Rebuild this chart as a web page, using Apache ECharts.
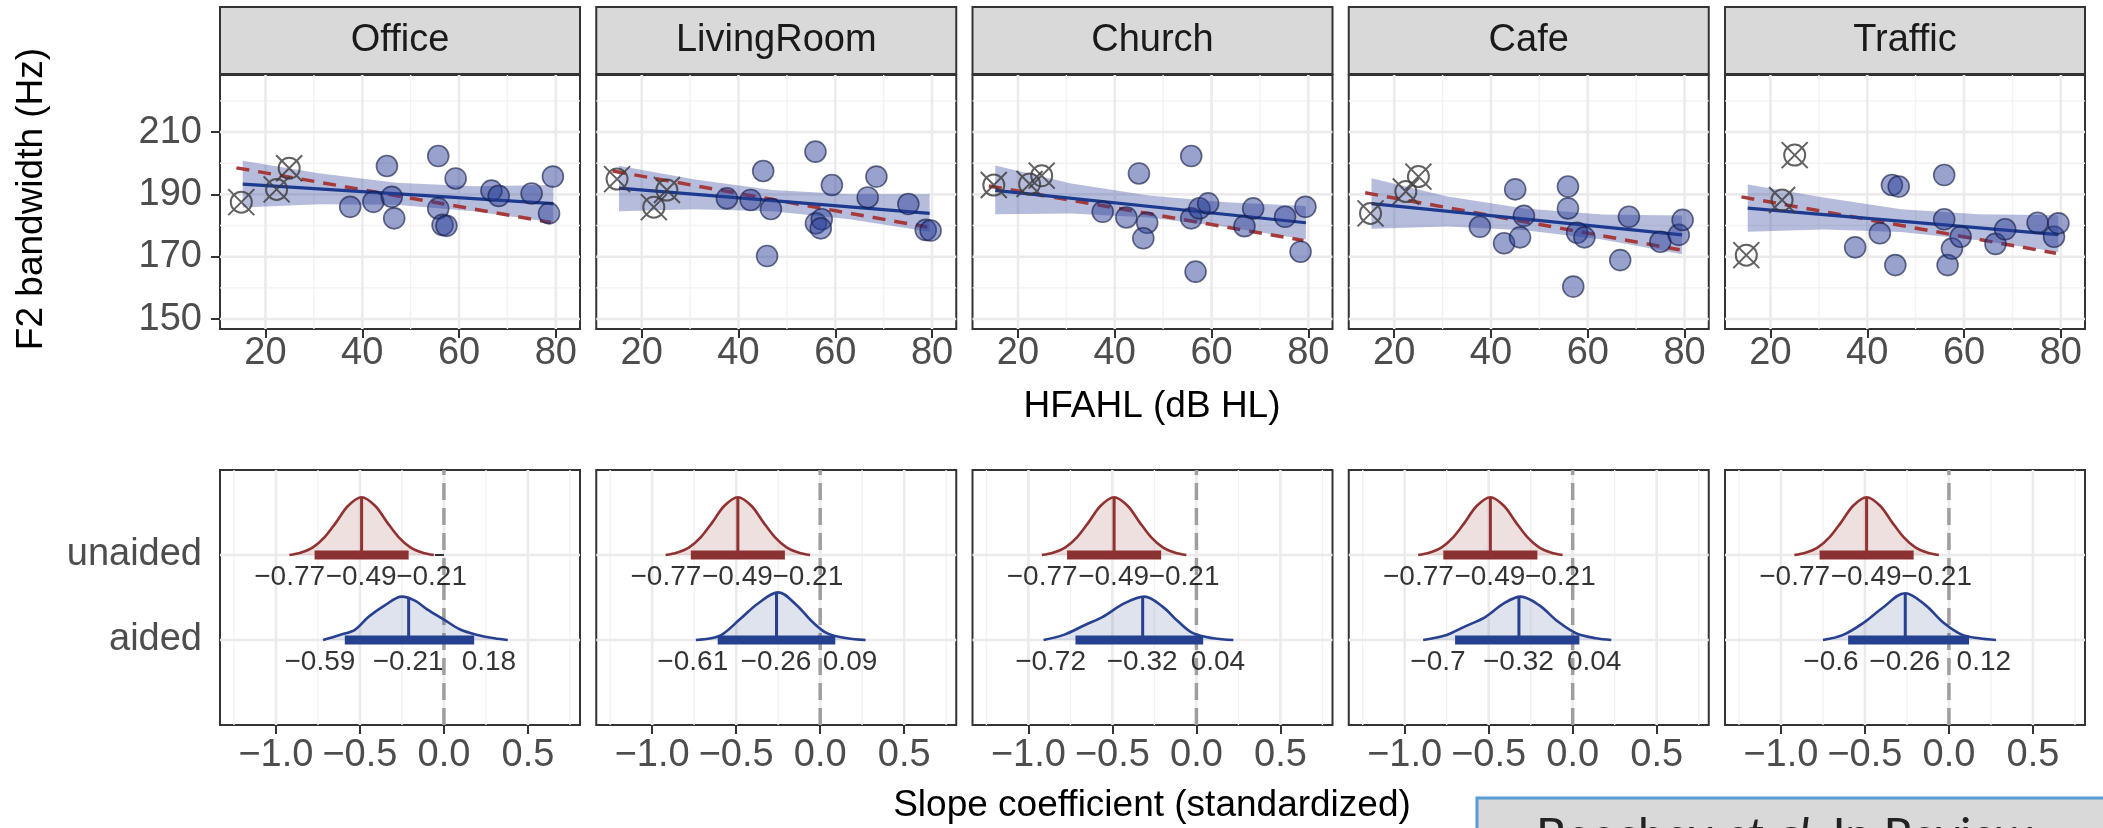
<!DOCTYPE html>
<html>
<head>
<meta charset="utf-8">
<title>F2 bandwidth vs HFAHL</title>
<script src="https://cdn.jsdelivr.net/npm/echarts@6/dist/echarts.min.js"></script>
<style>
  html, body { margin: 0; padding: 0; background: #fff; }
  #chart { width: 2103px; height: 828px; }
</style>
</head>
<body>
<div id="chart"></div>
<script>
// 面板名称
const rooms = ['Office', 'LivingRoom', 'Church', 'Cafe', 'Traffic'];

// 散点 [HFAHL, F2 bandwidth]
const officePts = [[37.5,186.0],[42.3,187.6],[45.1,199.1],[46.1,189.2],[46.6,182.3],[55.7,202.3],[55.7,185.5],[56.6,180.2],[57.4,179.9],[59.3,195.1],[66.7,191.2],[68.2,189.5],[75.0,190.3],[78.6,183.9],[79.4,195.7]];
const livingRoomPts = [[37.6,188.7],[42.5,188.2],[45.1,197.5],[46.7,185.3],[45.9,170.2],[55.9,203.7],[56.0,180.7],[57.2,182.0],[57.0,179.1],[59.3,193.0],[66.7,189.0],[68.5,195.7],[75.1,186.9],[78.7,178.6],[79.7,178.4]];
const churchPts = [[37.5,184.4],[42.4,182.6],[45.0,196.7],[46.7,180.9],[45.9,175.9],[55.8,202.3],[55.8,182.3],[56.7,165.2],[57.5,185.5],[59.3,187.1],[66.8,179.8],[68.6,185.5],[75.2,182.8],[79.4,186.0],[78.4,171.6]];
const cafePts = [[37.7,179.6],[42.7,174.3],[45.0,191.6],[46.0,176.2],[46.8,183.1],[55.9,192.5],[55.9,185.5],[57.0,160.4],[57.8,177.7],[59.3,176.2],[66.7,168.9],[68.5,182.8],[75.0,174.8],[78.8,177.0],[79.6,181.8]];
const trafficPts = [[37.5,173.0],[42.6,177.5],[45.1,193.0],[46.5,192.5],[45.8,167.3],[55.9,196.2],[55.9,182.0],[56.6,167.3],[57.5,172.6],[59.3,176.4],[66.5,174.1],[68.5,178.8],[75.2,180.9],[78.6,176.4],[79.5,180.7]];

// 带叉的点
const officeCrossed = [[15.0,187.5],[22.3,191.6],[24.9,198.4]];
const livingRoomCrossed = [[14.9,194.9],[22.5,185.9],[25.2,191.4]];
const churchCrossed = [[15.0,193.0],[22.4,193.3],[24.9,196.0]];
const cafeCrossed = [[15.1,183.9],[22.4,190.9],[25.0,195.7]];
const trafficCrossed = [[15.0,170.5],[22.4,188.2],[25.0,202.6]];

// 回归线（蓝色实线）与虚线（红色）
const fitX = [15.3, 79.5];
const blueFit = [[193.3,187.0],[192.0,183.9],[191.3,180.9],[187.0,177.0],[185.6,177.1]];
const redX = [14, 79];
const redFit = [[198.5,181.0],[197.5,179.5],[192.7,175.2],[190.5,172.2],[189.2,171.1]];

// 置信带
const bandX = [15.3, 31, 47, 63, 79.5];
const bandLo = [[185.8,186.8,186.7,184.6,181.0],[184.6,185.2,184.6,182.0,178.0],[183.6,183.9,182.6,179.5,175.5],[179.0,179.7,178.5,175.5,170.8],[178.0,178.7,177.9,175.3,171.5]];
const bandHi = [[200.8,196.8,193.7,192.6,193.0],[199.2,194.8,191.4,190.0,190.0],[199.3,193.5,189.6,187.5,186.3],[195.2,189.3,185.5,183.5,183.2],[193.2,189.0,185.2,183.6,183.3]];

// 刻度
const topXTicks = [20, 40, 60, 80];
const topXMinor = [30, 50, 70];
const topYTicks = [150, 170, 190, 210];
const topYMinor = [160, 180, 200, 220];
const slopeTicks = [-1.0, -0.5, 0.0, 0.5];
const slopeMinor = [-1.25, -0.75, -0.25, 0.25, 0.75];
const rows = ['aided', 'unaided'];

// 斜率区间 [下限, 中位数, 上限]
const unaidedCI = [-0.77, -0.49, -0.21];
const aidedCI = [[-0.59,-0.21,0.18],[-0.61,-0.26,0.09],[-0.72,-0.32,0.04],[-0.7,-0.32,0.04],[-0.6,-0.26,0.12]];

// 密度曲线（从图上读取的高度）
const unaidedDensX = [-0.92,-0.85,-0.78,-0.71,-0.64,-0.57,-0.49,-0.41,-0.34,-0.27,-0.20,-0.13,-0.06];
const unaidedDensH = [0.0,0.03,0.09,0.21,0.39,0.58,0.68,0.58,0.39,0.21,0.09,0.03,0.0];
const unaidedMedH = 0.68;
const aidedDensX = [
    [-0.72,-0.62,-0.53,-0.45,-0.35,-0.25,-0.17,-0.10,0.0,0.10,0.20,0.30,0.38],
    [-0.74,-0.65,-0.58,-0.48,-0.37,-0.25,-0.14,-0.05,0.04,0.16,0.27],
    [-0.91,-0.79,-0.66,-0.56,-0.43,-0.31,-0.20,-0.11,-0.02,0.10,0.22],
    [-0.89,-0.75,-0.64,-0.52,-0.41,-0.31,-0.20,-0.09,0.02,0.14,0.23],
    [-0.75,-0.63,-0.51,-0.40,-0.26,-0.14,-0.03,0.08,0.18,0.28]
];
const aidedDensH = [
    [0.0,0.06,0.12,0.27,0.41,0.51,0.46,0.36,0.24,0.12,0.06,0.02,0.0],
    [0.0,0.02,0.07,0.24,0.43,0.56,0.41,0.22,0.08,0.02,0.0],
    [0.0,0.06,0.18,0.27,0.43,0.51,0.39,0.22,0.08,0.02,0.0],
    [0.0,0.06,0.16,0.27,0.43,0.51,0.41,0.22,0.08,0.02,0.0],
    [0.0,0.06,0.20,0.37,0.55,0.41,0.20,0.06,0.02,0.0]
];
const aidedMedH = [0.49, 0.56, 0.51, 0.51, 0.55];

const allPts = [officePts, livingRoomPts, churchPts, cafePts, trafficPts];
const allCrossed = [officeCrossed, livingRoomCrossed, churchCrossed, cafeCrossed, trafficCrossed];

const FONT = '"Liberation Sans", Arial, Helvetica, sans-serif';
const TOP_X = [10.6, 85], TOP_Y = [146.8, 228.3];
const BOT_X = [-1.333, 0.81], BOT_Y = [0, 3];

document.addEventListener('DOMContentLoaded', function() {
    initChart();
});

function toMinus(v) {
    return String(v).replace('-', '\u2212');
}

// 网格线（自定义系列）
function makeGridRender(xMajor, xMinor, yMajor, yMinor, xr, yr, zeroX) {
    return function(params, api) {
        const children = [];
        const add = function(a, b, style) {
            children.push({ type: 'line', shape: { x1: a[0], y1: a[1], x2: b[0], y2: b[1] }, style: style });
        };
        xMinor.forEach(v => add(api.coord([v, yr[0]]), api.coord([v, yr[1]]), { stroke: '#f2f2f2', lineWidth: 1.4 }));
        yMinor.forEach(v => add(api.coord([xr[0], v]), api.coord([xr[1], v]), { stroke: '#f2f2f2', lineWidth: 1.4 }));
        xMajor.forEach(v => add(api.coord([v, yr[0]]), api.coord([v, yr[1]]), { stroke: '#ebebeb', lineWidth: 2.6 }));
        yMajor.forEach(v => add(api.coord([xr[0], v]), api.coord([xr[1], v]), { stroke: '#ebebeb', lineWidth: 2.6 }));
        if (zeroX !== null) {
            add(api.coord([zeroX, yr[0]]), api.coord([zeroX, yr[1]]), { stroke: '#9e9e9e', lineWidth: 3.5, lineDash: [17, 8] });
        }
        return { type: 'group', children: children };
    };
}

function initChart() {
    const el = document.getElementById('chart');
    const chart = echarts.init(el, null, { renderer: 'canvas' });

    const grid = [], xAxis = [], yAxis = [], series = [], graphic = [];
    const L0 = 220, STEP = 376.25, PW = 360;
    const RED = '#913232', RED_FILL = 'rgba(145,50,50,0.15)';
    const BLUE = '#27408f', BLUE_FILL = 'rgba(39,64,143,0.15)';

    const tickStyle = { color: '#333', width: 2 };
    const labelStyle = { fontSize: 38, color: '#4d4d4d', fontFamily: FONT };

    // 上排面板：网格 0-4
    for (let i = 0; i < 5; i++) {
        const L = L0 + i * STEP;
        grid.push({ left: L, top: 75, width: PW, height: 254, show: true, borderColor: '#333', borderWidth: 2,
            backgroundColor: '#fff', containLabel: false, outerBoundsMode: 'none' });
        xAxis.push({
            gridIndex: i, type: 'value', min: TOP_X[0], max: TOP_X[1],
            axisLine: { show: false }, splitLine: { show: false },
            axisTick: { show: true, customValues: topXTicks, length: 9, lineStyle: tickStyle },
            axisLabel: Object.assign({ customValues: topXTicks, margin: 6 }, labelStyle)
        });
        yAxis.push({
            gridIndex: i, type: 'value', min: TOP_Y[0], max: TOP_Y[1],
            axisLine: { show: false }, splitLine: { show: false },
            axisTick: { show: i === 0, customValues: topYTicks, length: 9, lineStyle: tickStyle },
            axisLabel: Object.assign({ show: i === 0, customValues: topYTicks, margin: 18 }, labelStyle)
        });

        series.push({
            type: 'custom', xAxisIndex: i, yAxisIndex: i, z: 0, silent: true,
            data: [[TOP_X[0], TOP_Y[0]]],
            renderItem: makeGridRender(topXTicks, topXMinor, topYTicks, topYMinor, TOP_X, TOP_Y, null)
        });
        // 置信带
        series.push({
            type: 'custom', xAxisIndex: i, yAxisIndex: i, z: 1, silent: true,
            data: [[bandX[0], bandLo[i][0]]],
            renderItem: (function(k) {
                return function(params, api) {
                    const pts = [];
                    bandX.forEach((x, j) => pts.push(api.coord([x, bandHi[k][j]])));
                    for (let j = bandX.length - 1; j >= 0; j--) pts.push(api.coord([bandX[j], bandLo[k][j]]));
                    return { type: 'polygon', shape: { points: pts }, style: { fill: 'rgba(40,60,150,0.34)' } };
                };
            })(i)
        });
        series.push({
            type: 'line', xAxisIndex: i, yAxisIndex: i, z: 2, symbol: 'none', silent: true,
            data: [[redX[0], redFit[i][0]], [redX[1], redFit[i][1]]],
            lineStyle: { color: '#a63a3a', width: 3.5, type: [13, 9] }
        });
        series.push({
            type: 'line', xAxisIndex: i, yAxisIndex: i, z: 3, symbol: 'none', silent: true,
            data: [[fitX[0], blueFit[i][0]], [fitX[1], blueFit[i][1]]],
            lineStyle: { color: '#1c3a8f', width: 3.2 }
        });
        series.push({
            type: 'scatter', xAxisIndex: i, yAxisIndex: i, z: 4, symbolSize: 21,
            data: allPts[i],
            itemStyle: { color: 'rgba(40,60,150,0.6)', borderColor: 'rgba(20,28,70,0.8)', borderWidth: 1.6 }
        });
        series.push({
            type: 'scatter', xAxisIndex: i, yAxisIndex: i, z: 4, symbolSize: 26,
            symbol: 'path://M0 0L26 26M26 0L0 26M23.5 13A10.5 10.5 0 1 1 2.5 13A10.5 10.5 0 1 1 23.5 13Z',
            data: allCrossed[i],
            itemStyle: { color: 'rgba(0,0,0,0)', borderColor: '#3a3a3a', borderWidth: 2 }
        });

        // 分面标签
        graphic.push({ type: 'rect', shape: { x: L, y: 7, width: PW, height: 67 },
            style: { fill: '#d9d9d9', stroke: '#333', lineWidth: 2 } });
        graphic.push({ type: 'text', x: L + PW / 2, y: 41,
            style: { text: rooms[i], fill: '#1a1a1a', fontSize: 38, fontFamily: FONT, align: 'center', verticalAlign: 'middle' } });
    }

    // 下排面板：网格 5-9
    for (let i = 0; i < 5; i++) {
        const L = L0 + i * STEP;
        const g = 5 + i;
        grid.push({ left: L, top: 470, width: PW, height: 255, show: true, borderColor: '#333', borderWidth: 2,
            backgroundColor: '#fff', containLabel: false, outerBoundsMode: 'none' });
        xAxis.push({
            gridIndex: g, type: 'value', min: BOT_X[0], max: BOT_X[1],
            axisLine: { show: false }, splitLine: { show: false },
            axisTick: { show: true, customValues: slopeTicks, length: 9, lineStyle: tickStyle },
            axisLabel: Object.assign({ customValues: slopeTicks, margin: 12,
                formatter: v => toMinus(Number(v).toFixed(1)) }, labelStyle)
        });
        yAxis.push({
            gridIndex: g, type: 'value', min: BOT_Y[0], max: BOT_Y[1],
            axisLine: { show: false }, splitLine: { show: false },
            axisTick: { show: i === 0, customValues: [1, 2], length: 9, lineStyle: tickStyle },
            axisLabel: Object.assign({ show: i === 0, customValues: [1, 2], margin: 18,
                formatter: v => rows[Math.round(v) - 1] || '' }, labelStyle)
        });

        series.push({
            type: 'custom', xAxisIndex: g, yAxisIndex: g, z: 0, silent: true,
            data: [[BOT_X[0], BOT_Y[0]]],
            renderItem: makeGridRender(slopeTicks, slopeMinor, [1, 2], [], BOT_X, BOT_Y, 0)
        });

        const groups = [
            { base: 2, ci: unaidedCI, dx: unaidedDensX, dh: unaidedDensH, mh: unaidedMedH, line: RED, fill: RED_FILL, bar: '#8c3131' },
            { base: 1, ci: aidedCI[i], dx: aidedDensX[i], dh: aidedDensH[i], mh: aidedMedH[i], line: BLUE, fill: BLUE_FILL, bar: '#24408f' }
        ];
        groups.forEach(function(d) {
            series.push({
                type: 'line', xAxisIndex: g, yAxisIndex: g, z: 2, symbol: 'none', silent: true,
                smooth: 0.35,
                data: d.dx.map((x, k) => [x, d.base + d.dh[k]]),
                lineStyle: { color: d.line, width: 2.6 },
                areaStyle: { color: d.fill, opacity: 1, origin: d.base }
            });
            series.push({
                type: 'line', xAxisIndex: g, yAxisIndex: g, z: 3, symbol: 'none', silent: true,
                data: [[d.ci[0], d.base], [d.ci[2], d.base]],
                lineStyle: { color: d.bar, width: 9, cap: 'butt' }
            });
            series.push({
                type: 'line', xAxisIndex: g, yAxisIndex: g, z: 4, symbol: 'none', silent: true,
                data: [[d.ci[1], d.base], [d.ci[1], d.base + d.mh]],
                lineStyle: { color: d.line, width: 3 }
            });
            const lab = (pos, align) => ({ show: true, position: pos, align: align, verticalAlign: 'middle',
                fontSize: 28, color: '#000', fontFamily: FONT, formatter: p => toMinus(p.value[0]) });
            series.push({
                type: 'scatter', xAxisIndex: g, yAxisIndex: g, z: 5, symbolSize: 1, silent: true,
                itemStyle: { color: 'rgba(0,0,0,0)' },
                data: [
                    { value: [d.ci[0], d.base], label: lab([11, 23], 'right') },
                    { value: [d.ci[1], d.base], label: lab([0, 23], 'center') },
                    { value: [d.ci[2], d.base], label: lab([-12, 23], 'left') }
                ]
            });
        });
    }

    // 坐标轴标题
    graphic.push({ type: 'text', x: 1152, y: 407,
        style: { text: 'HFAHL (dB HL)', fill: '#000', fontSize: 37, fontFamily: FONT, align: 'center', verticalAlign: 'middle' } });
    graphic.push({ type: 'text', x: 1152, y: 806,
        style: { text: 'Slope coefficient (standardized)', fill: '#000', fontSize: 37, fontFamily: FONT, align: 'center', verticalAlign: 'middle' } });
    graphic.push({ type: 'text', x: 32, y: 199, rotation: Math.PI / 2,
        style: { text: 'F2 bandwidth (Hz)', fill: '#000', fontSize: 37, fontFamily: FONT, align: 'center', verticalAlign: 'middle' } });

    // 右下角引用框
    graphic.push({ type: 'rect', z: 100, shape: { x: 1477, y: 798, width: 700, height: 80 },
        style: { fill: '#d9d9d9', stroke: '#5b9bd5', lineWidth: 3 } });
    graphic.push({ type: 'text', z: 101, x: 1536, y: 812,
        style: {
            text: '{n|Beechey }{i|et al.}{n| In Review}',
            align: 'left', verticalAlign: 'top',
            rich: {
                n: { fontSize: 47, fontFamily: 'Lato, "Open Sans", sans-serif', fill: '#222' },
                i: { fontSize: 47, fontFamily: 'Lato, "Open Sans", sans-serif', fontStyle: 'italic', fill: '#222' }
            }
        } });

    const option = {
        animation: false,
        backgroundColor: '#fff',
        textStyle: { fontFamily: FONT },
        grid: grid,
        xAxis: xAxis,
        yAxis: yAxis,
        series: series,
        graphic: graphic
    };

    chart.setOption(option);

    window.addEventListener('resize', function() {
        chart.resize();
    });
}
</script>
</body>
</html>
